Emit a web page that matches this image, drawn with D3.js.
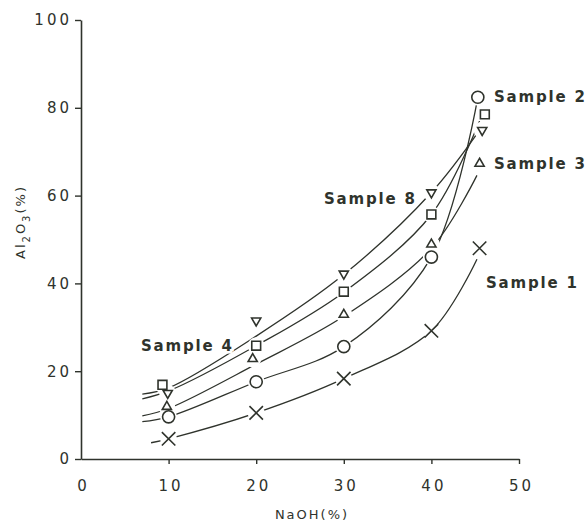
<!DOCTYPE html>
<html>
<head>
<meta charset="utf-8">
<script src="https://cdn.jsdelivr.net/npm/d3@7"></script>
<style>
  body { margin: 0; background: #fff; }
  text { font-family: "DejaVu Sans", sans-serif; fill: #2f332c; }
</style>
</head>
<body>
<script>
// data
var xTicks = [0, 10, 20, 30, 40, 50];
var yTicks = [0, 20, 40, 60, 80, 100];

// markers
var s1x = [10, 20, 30, 40, 45.5], s1y = [4.6, 10.5, 18.3, 29.2, 48];
var s2x = [10, 20, 30, 40, 45.3], s2y = [9.6, 17.6, 25.6, 46, 82.4];
var s3x = [9.8, 19.6, 30, 40, 45.5], s3y = [11.9, 22.8, 32.9, 48.9, 67.3];
var s4x = [9.3, 20, 30, 40, 46.1], s4y = [16.9, 25.8, 38.1, 55.7, 78.5];
var s8x = [9.9, 20, 30, 40, 45.8], s8y = [15, 31.5, 42.2, 60.7, 74.9];

// hand drawn curves
var c1x = [8, 10, 20, 30, 40, 45.2], c1y = [3.7, 4.6, 10.5, 18.3, 29.2, 45.5];
var c2x = [7, 10, 20, 30, 40, 45.3], c2y = [8.5, 9.6, 17.6, 25.6, 46, 82.4];
var c3x = [7, 10, 20, 30, 40, 45.2], c3y = [9.8, 11.5, 21.6, 32.5, 48, 64.6];
var c4x = [7, 10, 20, 30, 40, 45.5], c4y = [13.7, 15.5, 25.8, 38, 55.7, 77];
var c8x = [7, 10, 20, 30, 40, 45.5], c8y = [14.8, 16.2, 28, 42, 60.7, 74.9];

var width = 588, height = 522;
var ink = "#2f332c";

var svg = d3.select("body").append("svg")
    .attr("width", width)
    .attr("height", height);

var x = d3.scaleLinear().domain([0, 50]).range([81, 519]);
var y = d3.scaleLinear().domain([0, 100]).range([459, 20]);

// axes
var xAxis = svg.append("g")
    .attr("transform", "translate(0," + y(0) + ")")
    .call(d3.axisBottom(x).tickValues(xTicks).tickSize(5).tickSizeOuter(0).tickPadding(16));
xAxis.select(".domain").attr("stroke", ink).attr("stroke-width", 1.6);
xAxis.selectAll(".tick line").attr("stroke", ink).attr("stroke-width", 1.4)
    .filter(function (d) { return d === 0; }).remove();
xAxis.selectAll(".tick text")
    .style("font-size", "15px").style("letter-spacing", "3px")
    .attr("fill", ink).attr("dx", "2px");

var yAxis = svg.append("g")
    .attr("transform", "translate(" + x(0) + ",0)")
    .call(d3.axisLeft(y).tickValues(yTicks).tickSize(6).tickSizeOuter(0).tickPadding(8));
yAxis.select(".domain").attr("stroke", ink).attr("stroke-width", 1.6);
yAxis.selectAll(".tick line").attr("stroke", ink).attr("stroke-width", 1.4);
yAxis.selectAll(".tick text")
    .style("font-size", "15px").style("letter-spacing", "3px")
    .attr("fill", ink).attr("dx", "5px");

// axis titles
svg.append("text")
    .attr("x", 312).attr("y", 519)
    .attr("text-anchor", "middle")
    .style("font-size", "13px").style("letter-spacing", "2px")
    .attr("fill", "#4a4f47")
    .text("NaOH(%)");

var yt = svg.append("text")
    .attr("transform", "translate(25,222) rotate(-90)")
    .attr("text-anchor", "middle")
    .style("font-size", "13px").style("letter-spacing", "2px")
    .attr("fill", "#4a4f47");
yt.append("tspan").text("Al");
yt.append("tspan").attr("dy", 5).style("font-size", "10px").text("2");
yt.append("tspan").attr("dy", -5).text("O");
yt.append("tspan").attr("dy", 5).style("font-size", "10px").text("3");
yt.append("tspan").attr("dy", -5).text("(%)");

// curves
var line = d3.line()
    .x(function (d) { return x(d[0]); })
    .y(function (d) { return y(d[1]); })
    .curve(d3.curveCatmullRom.alpha(0.5));

var curves = [[c1x, c1y], [c2x, c2y], [c3x, c3y], [c4x, c4y], [c8x, c8y]];
curves.forEach(function (c) {
    svg.append("path")
        .datum(d3.zip(c[0], c[1]))
        .attr("d", line)
        .attr("fill", "none")
        .attr("stroke", ink)
        .attr("stroke-width", 1.3);
});

// markers
var series = [
    { xs: s1x, ys: s1y, type: d3.symbolTimes, size: 120, rot: 0 },
    { xs: s2x, ys: s2y, type: d3.symbolCircle, size: 115, rot: 0 },
    { xs: s3x, ys: s3y, type: d3.symbolTriangle2, size: 60, rot: 0 },
    { xs: s4x, ys: s4y, type: d3.symbolSquare2, size: 100, rot: 0 },
    { xs: s8x, ys: s8y, type: d3.symbolTriangle2, size: 60, rot: 180 }
];

series.forEach(function (s) {
    var pts = d3.zip(s.xs, s.ys);
    // white gap around each marker, like the drawn figure
    svg.append("g").selectAll("circle")
        .data(pts).enter().append("circle")
        .attr("cx", function (d) { return x(d[0]); })
        .attr("cy", function (d) { return y(d[1]); })
        .attr("r", 8.5)
        .attr("fill", "#fff");
});

series.forEach(function (s) {
    var pts = d3.zip(s.xs, s.ys);
    svg.append("g").selectAll("path")
        .data(pts).enter().append("path")
        .attr("d", d3.symbol().type(s.type).size(s.size))
        .attr("transform", function (d) {
            return "translate(" + x(d[0]) + "," + y(d[1]) + ") rotate(" + s.rot + ")";
        })
        .attr("fill", "#fff")
        .attr("stroke", ink)
        .attr("stroke-width", 1.6);
});

// sample labels
var labels = [
    { t: "Sample 2", x: 494, y: 102 },
    { t: "Sample 3", x: 494, y: 169 },
    { t: "Sample 8", x: 324, y: 204 },
    { t: "Sample 4", x: 141, y: 351 },
    { t: "Sample 1", x: 486, y: 288 }
];
svg.append("g").selectAll("text")
    .data(labels).enter().append("text")
    .attr("x", function (d) { return d.x; })
    .attr("y", function (d) { return d.y; })
    .style("font-size", "15px")
    .style("letter-spacing", "1.8px")
    .style("font-weight", "600")
    .attr("stroke", "#fff").attr("stroke-width", 5)
    .style("paint-order", "stroke")
    .text(function (d) { return d.t; });
</script>
</body>
</html>
